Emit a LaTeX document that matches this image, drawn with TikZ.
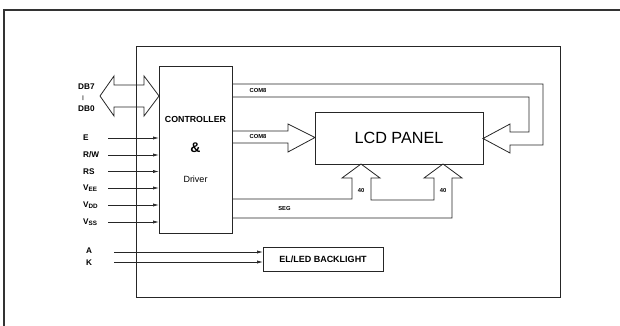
\documentclass[tikz,border=0pt]{standalone}
\usepackage{fontspec}
\setmainfont{Liberation Sans}
\usetikzlibrary{arrows.meta}
\begin{document}
\begin{tikzpicture}[x=1pt,y=-1pt,
  ln/.style={draw=black!85,line width=0.8pt},
  box/.style={draw=black!85,line width=0.8pt,inner sep=0pt,outer sep=0pt},
  pin/.style={draw=black!85,line width=0.7pt,-{Latex[length=6pt,width=3.2pt]}},
  plab/.style={anchor=west,inner sep=0pt,font=\fontsize{8.2}{9}\selectfont\bfseries},
  slab/.style={inner sep=0pt,font=\fontsize{5.8}{7}\selectfont\bfseries}]
\useasboundingbox (0,0) rectangle (620,326);
% outer frame (top and left edges)
\draw[draw=black!80,line width=2pt] (3,10) -- (620,10);
\draw[draw=black!80,line width=1.4pt] (4,10) -- (4,326);
% inner frame
\node[box,minimum width=424pt,minimum height=251pt] (frame) at (348,171.5) {};
% main boxes
\node[box,minimum width=73pt,minimum height=167pt] (ctrl) at (195.5,149.5) {};
\node[box,minimum width=168pt,minimum height=52pt,font=\fontsize{16.2}{18}\selectfont] (lcd) at (399,138) {LCD PANEL};
\node[box,minimum width=120pt,minimum height=24pt,font=\fontsize{9}{10}\selectfont\bfseries] (bl) at (323,259) {EL/LED BACKLIGHT};
% controller texts
\node[inner sep=0pt,font=\fontsize{8.8}{10}\selectfont\bfseries] (t1) at (ctrl.center|-0,119) {CONTROLLER};
\node[inner sep=0pt,font=\fontsize{14}{15}\selectfont\bfseries] (t2) at (ctrl.center|-0,148) {\&};
\node[inner sep=0pt,font=\fontsize{9}{10}\selectfont] (t3) at (ctrl.center|-0,179) {Driver};
% data bus double arrow
\draw[ln] (100,96) -- (114,76) -- (114,85) -- (144,85) -- (144,76) -- (ctrl.west|-0,96)
  -- (144,116) -- (144,107) -- (114,107) -- (114,116) -- cycle;
\node[plab] (db7) at (78,87) {DB7};
\node[inner sep=0pt,font=\fontsize{5}{5}\selectfont\bfseries] (dbm) at (83,98) {|};
\node[plab] (db0) at (78,109) {DB0};
% pin lines
\foreach \nm/\yy in {e/138,rw/155,rs/171.5,vee/188,vdd/205,vss/222}{
  \coordinate (p\nm) at (108,\yy);
  \draw[pin] (p\nm) -- (p\nm-|ctrl.west);
}
\node[plab] (le) at (83,138) {E};
\node[plab] (lrw) at (83,155) {R/W};
\node[plab] (lrs) at (83,171.5) {RS};
\node[plab] (lvee) at (83,188) {V\raisebox{-0.8pt}{\fontsize{6.3}{7}\selectfont EE}};
\node[plab] (lvdd) at (83,205) {V\raisebox{-0.8pt}{\fontsize{6.3}{7}\selectfont DD}};
\node[plab] (lvss) at (83,222) {V\raisebox{-0.8pt}{\fontsize{6.3}{7}\selectfont SS}};
% backlight pins
\coordinate (pa) at (114,252);
\coordinate (pk) at (114,262);
\draw[pin] (pa) -- (pa-|bl.west);
\draw[pin] (pk) -- (pk-|bl.west);
\node[plab] (la) at (86,251) {A};
\node[plab] (lk) at (86,263) {K};
% COM8 direct arrow
\draw[ln] (ctrl.east|-0,131) -- (288,131) -- (288,124) -- (lcd.west|-0,137.5)
  -- (288,152) -- (288,143) -- (ctrl.east|-0,143);
\node[slab] (c8b) at (258,137) {COM8};
% COM8 routed arrow to the right side
\draw[ln] (ctrl.east|-0,84) -- (543,84) -- (543,145) -- (510,145) -- (510,153)
  -- (lcd.east|-0,138.5) -- (510,124) -- (510,132) -- (529,132) -- (529,97) -- (ctrl.east|-0,97);
\node[slab] (c8a) at (258,91) {COM8};
% SEG arrows
\draw[ln] (ctrl.east|-0,199) -- (352,199) -- (352,178) -- (342,178) -- (361,0|-lcd.south)
  -- (380,178) -- (371,178) -- (371,200) -- (434,200) -- (434,178) -- (424,178)
  -- (443,0|-lcd.south) -- (462,178) -- (452,178) -- (452,218) -- (ctrl.east|-0,218);
\node[slab] (seg) at (284.5,209) {SEG};
\node[slab] (n40a) at (361,191) {40};
\node[slab] (n40b) at (443,191) {40};
\end{tikzpicture}
\end{document}
